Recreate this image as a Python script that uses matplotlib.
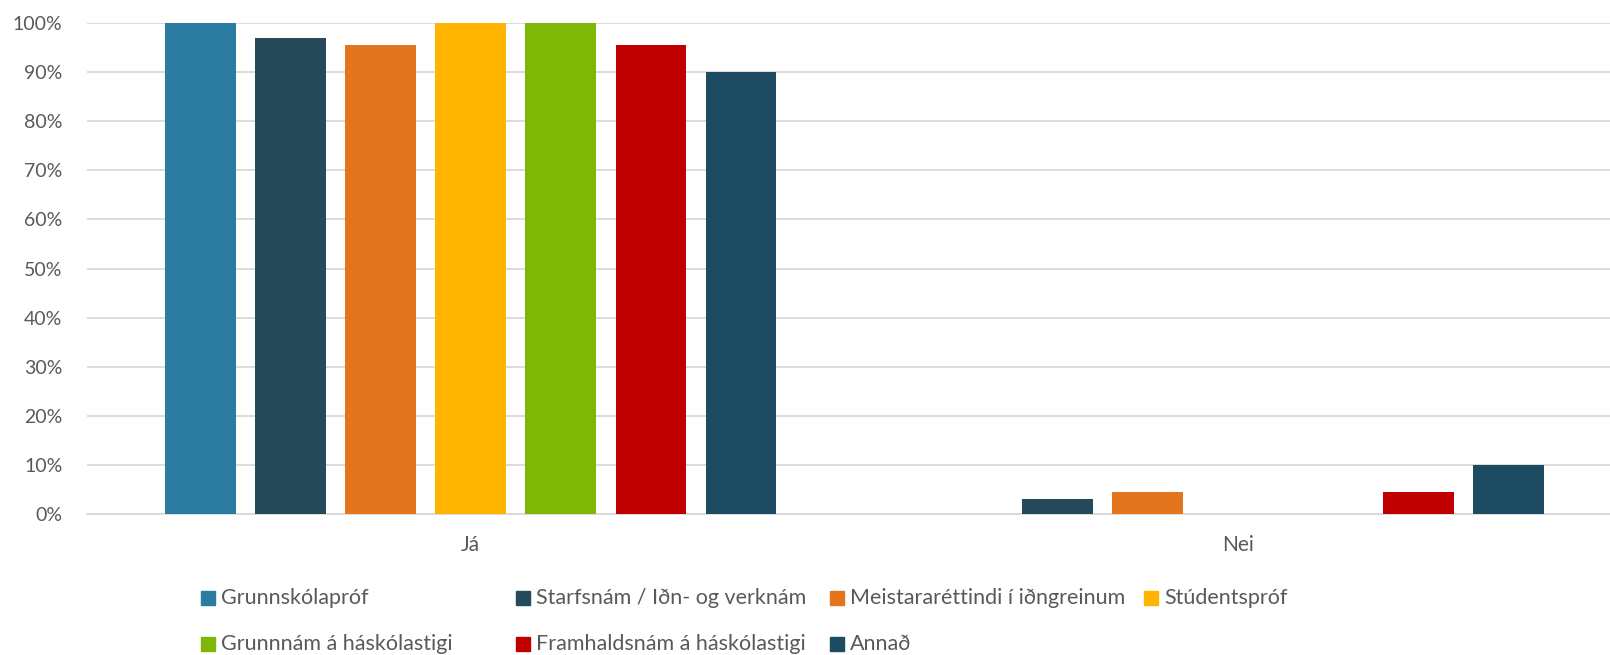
import matplotlib.pyplot as plt
from matplotlib.patches import Rectangle
from matplotlib.ticker import PercentFormatter

plt.rcParams['font.family'] = ['Lato', 'DejaVu Sans']

categories = ['Já', 'Nei']
series = ['Grunnskólapróf', 'Starfsnám / Iðn- og verknám', 'Meistararéttindi í iðngreinum',
          'Stúdentspróf', 'Grunnnám á háskólastigi', 'Framhaldsnám á háskólastigi', 'Annað']
ja = [100, 96.8, 95.5, 100, 100, 95.4, 90]
nei = [0, 3.2, 4.5, 0, 0, 4.6, 10]
colors = ['#2C7BA1', '#254A5A', '#E3751F', '#FFB400', '#80B606', '#C00000', '#1D4B61']

W, H = 1610, 655
fig = plt.figure(figsize=(W / 100, H / 100), dpi=100)
ax = fig.add_axes([0.0542, 0.2146, 0.9458, 0.7509])

step = 0.1174
width = 0.0924
values = list(zip(ja, nei))
for i, name in enumerate(series):
    xs = [c + (i - 3) * step for c in range(len(categories))]
    ax.bar(xs, values[i], width=width, color=colors[i], zorder=3)

ax.set_xlim(-0.5, 1.485)
ax.set_ylim(0, 100)
ax.set_yticks(range(0, 101, 10))
ax.yaxis.set_major_formatter(PercentFormatter(decimals=0))
ax.set_xticks(range(len(categories)))
ax.set_xticklabels(categories)
ax.tick_params(axis='both', length=0, labelsize=14, colors='#595959')
ax.tick_params(axis='x', labelsize=15, pad=15)
ax.tick_params(axis='y', pad=18)
ax.grid(axis='y', color='#D9D9D9', linewidth=1.3, zorder=0)
for s in ['top', 'right', 'left']:
    ax.spines[s].set_visible(False)
ax.spines['bottom'].set_color('#D9D9D9')
ax.spines['bottom'].set_linewidth(1.3)

# legend laid out like the Excel one: 4 columns, 2 rows
col_x = [201, 516, 830, 1144]
row_y = [598, 644]
sq = 14
for i, name in enumerate(series):
    x = col_x[i % 4]
    y = row_y[i // 4]
    fig.patches.append(Rectangle((x / W, 1 - (y + sq / 2) / H), sq / W, sq / H,
                                 transform=fig.transFigure, color=colors[i]))
    fig.text((x + sq + 6) / W, 1 - y / H, name, fontsize=15.5, color='#595959',
             va='center', ha='left')

fig.savefig('out.png', dpi=100)
